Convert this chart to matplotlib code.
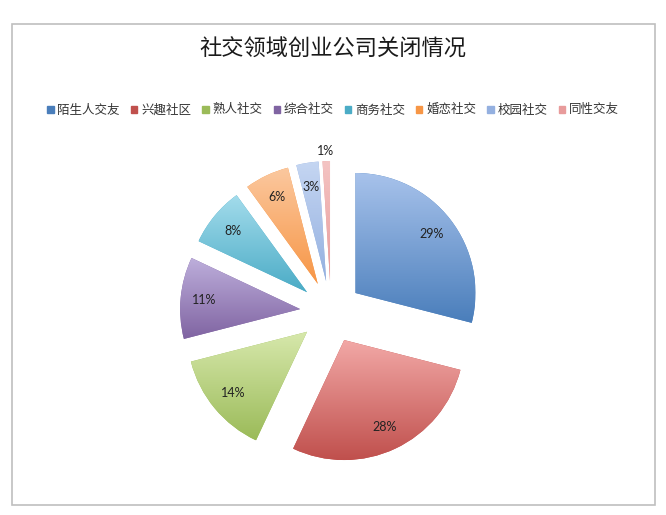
import matplotlib.pyplot as plt
import numpy as np
from matplotlib.colors import to_rgb
from matplotlib.patches import Rectangle

plt.rcParams['font.family'] = ['Noto Sans CJK SC', 'DejaVu Sans']

title = '社交领域创业公司关闭情况'
labels = ['陌生人交友', '兴趣社区', '熟人社交', '综合社交', '商务社交', '婚恋社交', '校园社交', '同性交友']
values = [29, 28, 14, 11, 8, 6, 3, 1]

# bottom (base) and top (light) colour of each slice gradient
base_colors = ['#4A7EBB', '#C0504D', '#9BBB59', '#8064A2', '#4BACC6', '#F79646', '#94B0E0', '#E89B9B']
top_colors = ['#A7C2EB', '#F2A8A6', '#D7E8AC', '#BDAEDB', '#A4DCEC', '#FBC89F', '#C5D6F2', '#F4C4C3']

fig = plt.figure(figsize=(6.66, 5.15), dpi=100)
ax = fig.add_axes([0, 0, 1, 1])

R = 120
wedges, texts, autotexts = ax.pie(values, radius=R, center=(331, 203), explode=[31] * len(values),
                                  startangle=90, counterclock=False, colors=base_colors,
                                  autopct='%d%%', pctdistance=0.8,
                                  wedgeprops=dict(linewidth=0),
                                  textprops=dict(fontsize=9, color='#222222', family='Lato'))

# vertical gradient inside every slice
for w, c_top, c_bot in zip(wedges, top_colors, base_colors):
    ext = w.get_path().get_extents()
    t = np.linspace(0, 1, 100)[:, None]
    grad = (1 - t) * np.array(to_rgb(c_top)) + t * np.array(to_rgb(c_bot))
    im = ax.imshow(grad[:, None, :], extent=(ext.x0, ext.x1, ext.y0, ext.y1),
                   origin='upper', aspect='auto', interpolation='bilinear', zorder=2)
    im.set_clip_path(w)

for at in autotexts:
    at.set_zorder(3)

# the tiny slice has its label outside
w = wedges[-1]
th = np.deg2rad((w.theta1 + w.theta2) / 2)
cx, cy = w.center
autotexts[-1].set_position((cx + 1.08 * R * np.cos(th), cy + 1.08 * R * np.sin(th)))

ax.set_xlim(0, 666)
ax.set_ylim(0, 515)
ax.set_aspect('equal')
ax.axis('off')

# chart frame
ax.add_patch(Rectangle((12, 10), 643, 481, fill=False, edgecolor='#BFBFBF', linewidth=1.2, zorder=1))

ax.text(333, 466, title, ha='center', va='center', fontsize=16, color='#1a1a1a')

handles = [Rectangle((0, 0), 1, 1, color=c) for c in base_colors]
fig.legend(handles, labels, ncol=8, loc='center', bbox_to_anchor=(333 / 666, 1 - 110 / 515),
           frameon=False, fontsize=9, handlelength=0.5, handleheight=0.5,
           handletextpad=0.3, columnspacing=0.9, labelcolor='#333333')

fig.savefig('out.png', dpi=100)
